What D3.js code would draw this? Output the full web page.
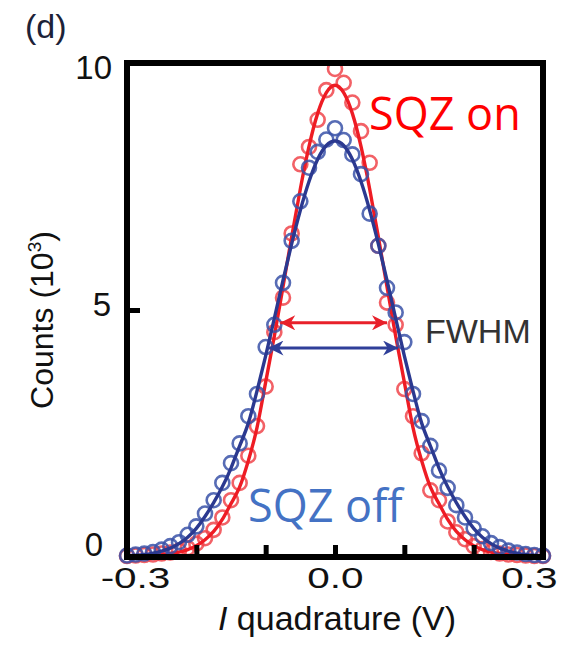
<!DOCTYPE html>
<html>
<head>
<meta charset="utf-8">
<script src="https://d3js.org/d3.v7.min.js"></script>
<style>
  body { margin: 0; background: #fff; }
  text { font-family: "Liberation Sans", Arial, sans-serif; }
  .ann { font-family: "Open Sans", sans-serif; }
</style>
</head>
<body>
<svg width="585" height="648"></svg>
<script>

// I quadrature (V), one histogram bin every 12.5 mV
var xs = [-0.3,-0.2875,-0.275,-0.2625,-0.25,-0.2375,-0.225,-0.2125,-0.2,-0.1875,-0.175,-0.1625,-0.15,-0.1375,-0.125,-0.1125,-0.1,-0.0875,-0.075,-0.0625,-0.05,-0.0375,-0.025,-0.0125,
          0,0.0125,0.025,0.0375,0.05,0.0625,0.075,0.0875,0.1,0.1125,0.125,0.1375,0.15,0.1625,0.175,0.1875,0.2,0.2125,0.225,0.2375,0.25,0.2625,0.275,0.2875,0.3];

// counts (10^3), SQZ on = red, SQZ off = blue
var redPts = [0.02,0.03,0.04,0.05,0.07,0.09,0.13,0.18,0.27,0.38,0.55,0.80,1.15,1.50,2.05,2.65,3.45,4.55,5.25,6.55,7.95,8.30,8.85,9.45,
              9.88,9.60,9.20,8.62,7.98,6.30,5.15,4.70,3.40,2.85,2.10,1.35,1.15,0.72,0.50,0.36,0.22,0.16,0.10,0.07,0.05,0.04,0.03,0.02,0.02];
var bluePts = [0.03,0.05,0.07,0.10,0.15,0.22,0.30,0.45,0.62,0.88,1.15,1.50,1.90,2.30,2.85,3.30,4.25,4.70,5.55,6.40,7.20,7.88,8.20,8.45,
               8.68,8.44,8.15,7.75,6.95,6.30,5.45,4.95,4.35,3.30,2.75,2.25,1.75,1.40,1.05,0.80,0.58,0.42,0.28,0.20,0.13,0.09,0.06,0.04,0.03];

// fitted curves
var redFit = [0.012,0.018,0.025,0.035,0.05,0.07,0.10,0.15,0.23,0.35,0.52,0.76,1.08,1.42,1.95,2.62,3.54,4.47,5.47,6.48,7.45,8.31,8.98,9.40,
              9.55,9.40,8.98,8.31,7.45,6.48,5.47,4.47,3.54,2.62,1.95,1.42,1.08,0.76,0.52,0.35,0.23,0.15,0.10,0.07,0.05,0.035,0.025,0.018,0.012];
var blueFit = [0.025,0.035,0.05,0.08,0.12,0.18,0.27,0.40,0.58,0.82,1.10,1.42,1.80,2.25,2.71,3.36,4.07,4.83,5.60,6.34,7.02,7.60,8.05,8.33,
               8.42,8.33,8.05,7.60,7.02,6.34,5.60,4.83,4.07,3.36,2.71,2.25,1.80,1.42,1.10,0.82,0.58,0.40,0.27,0.18,0.12,0.08,0.05,0.035,0.025];

var xTicks = [-0.3,-0.2,-0.1,0,0.1,0.2,0.3];
var xTickText = {"-0.3": "-0.3", "0": "0.0", "0.3": "0.3"};
var yTicks = [0,5,10];

// FWHM arrows: [left, right], level
var fwhmRed = [-0.079, 0.075], fwhmRedLevel = 4.74;
var fwhmBlue = [-0.096, 0.091], fwhmBlueLevel = 4.23;

var svg = d3.select("svg");

var x = d3.scaleLinear().domain([-0.3, 0.3]).range([127, 543]);
var y = d3.scaleLinear().domain([0, 10]).range([557, 63]);

var redCol = "#ee1c24", blueCol = "#2b3990";

// markers for the arrows
var defs = svg.append("defs");
[["arrRed", "#e8202a"], ["arrBlue", "#2f3f99"]].forEach(function(m) {
  defs.append("marker")
      .attr("id", m[0])
      .attr("viewBox", "0 0 10 10")
      .attr("refX", 10).attr("refY", 5)
      .attr("markerUnits", "userSpaceOnUse")
      .attr("markerWidth", 17).attr("markerHeight", 15)
      .attr("orient", "auto-start-reverse")
    .append("path")
      .attr("d", "M0,0 L10,5 L0,10 L3,5 Z")
      .attr("fill", m[1]);
});

// data circles and fits
function drawSeries(pts, fit, circCol, lineCol) {
  svg.append("g").selectAll("circle")
      .data(pts)
    .enter().append("circle")
      .attr("cx", function(d, i) { return x(xs[i]); })
      .attr("cy", function(d) { return y(d); })
      .attr("r", 7)
      .attr("fill", "none")
      .attr("stroke", circCol)
      .attr("stroke-width", 2.6)
      .attr("opacity", 0.85);

  var line = d3.line()
      .x(function(d, i) { return x(xs[i]); })
      .y(function(d) { return y(d); })
      .curve(d3.curveNatural);

  svg.append("path")
      .datum(fit)
      .attr("d", line)
      .attr("fill", "none")
      .attr("stroke", lineCol)
      .attr("stroke-width", 3.4);
}

drawSeries(redPts, redFit, "#f0454b", redCol);
drawSeries(bluePts, blueFit, "#3a52a8", blueCol);

// FWHM arrows
svg.append("line")
    .attr("x1", x(fwhmRed[0])).attr("x2", x(fwhmRed[1]))
    .attr("y1", y(fwhmRedLevel)).attr("y2", y(fwhmRedLevel))
    .attr("stroke", "#e8202a").attr("stroke-width", 3)
    .attr("marker-start", "url(#arrRed)").attr("marker-end", "url(#arrRed)");
svg.append("line")
    .attr("x1", x(fwhmBlue[0])).attr("x2", x(fwhmBlue[1]))
    .attr("y1", y(fwhmBlueLevel)).attr("y2", y(fwhmBlueLevel))
    .attr("stroke", "#2f3f99").attr("stroke-width", 3)
    .attr("marker-start", "url(#arrBlue)").attr("marker-end", "url(#arrBlue)");

// frame
svg.append("rect")
    .attr("x", x(-0.3)).attr("y", y(10))
    .attr("width", x(0.3) - x(-0.3)).attr("height", y(0) - y(10))
    .attr("fill", "none").attr("stroke", "#000").attr("stroke-width", 6);

// x axis, inward ticks
var xAxis = svg.append("g")
    .attr("transform", "translate(0," + y(0) + ")")
    .call(d3.axisBottom(x).tickValues(xTicks).tickSize(-12).tickPadding(10)
      .tickFormat(function(d) { return xTickText[String(+d.toFixed(1))] || ""; }));
xAxis.select(".domain").remove();
xAxis.selectAll(".tick line").attr("stroke", "#000").attr("stroke-width", 5);
xAxis.selectAll(".tick text")
    .attr("font-size", 30).attr("fill", "#111")
    .style("font-family", "'Liberation Sans', Arial, sans-serif")
    .attr("transform", function(d) {
      var dx = d < -0.25 ? 8 : (d > 0.25 ? -14 : 0);
      return "translate(" + dx + ",0) scale(1.35,1)";
    });

// y axis, inward ticks
var yAxis = svg.append("g")
    .attr("transform", "translate(" + x(-0.3) + ",0)")
    .call(d3.axisLeft(y).tickValues(yTicks).tickSize(-13).tickPadding(16));
yAxis.select(".domain").remove();
yAxis.selectAll(".tick line").attr("stroke", "#000").attr("stroke-width", 5);
yAxis.selectAll(".tick text")
    .attr("font-size", 33).attr("fill", "#111")
    .style("font-family", "'Liberation Sans', Arial, sans-serif")
    .attr("transform", function(d) {
      if (d === 10) return "translate(1,5)";
      if (d === 5) return "translate(0,-5)";
      return "translate(-8,-12)";
    });

// axis titles
var xl = svg.append("text")
    .attr("x", 337).attr("y", 630)
    .attr("text-anchor", "middle")
    .attr("font-size", 34).attr("fill", "#111");
xl.append("tspan").attr("font-style", "italic").text("I");
xl.append("tspan").text(" quadrature (V)");

var yl = svg.append("text")
    .attr("transform", "translate(53,320) rotate(-90)")
    .attr("text-anchor", "middle")
    .attr("font-size", 32).attr("fill", "#111");
yl.append("tspan").text("Counts (10");
yl.append("tspan").attr("font-size", 19).attr("dy", -12).text("3");
yl.append("tspan").attr("dy", 12).text(")");

// panel label
svg.append("text")
    .attr("x", 25).attr("y", 38)
    .attr("font-size", 34).attr("fill", "#1c2238")
    .text("(d)");

// annotations
svg.append("text")
    .attr("class", "ann")
    .attr("x", 369).attr("y", 130)
    .attr("font-size", 45).attr("fill", "#ff0000")
    .text("SQZ on");
svg.append("text")
    .attr("class", "ann")
    .attr("x", 248).attr("y", 522)
    .attr("font-size", 45).attr("fill", "#4472c4")
    .text("SQZ off");
svg.append("text")
    .attr("x", 425).attr("y", 343)
    .attr("font-size", 34).attr("fill", "#333")
    .text("FWHM");

</script>
</body>
</html>
